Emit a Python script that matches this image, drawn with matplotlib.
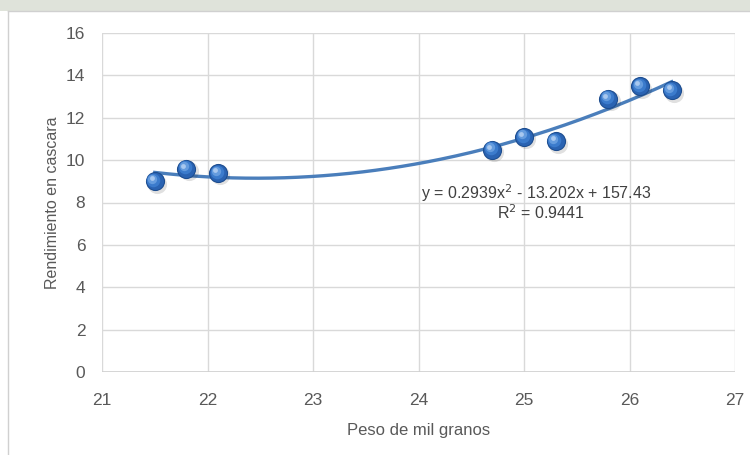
import numpy as np
import matplotlib
matplotlib.use("Agg")
import matplotlib.pyplot as plt
from matplotlib.lines import Line2D
from matplotlib.patches import Rectangle

plt.rcParams['font.family'] = ['Liberation Sans', 'DejaVu Sans']

peso = [21.5, 21.8, 22.1, 24.7, 25.0, 25.3, 25.8, 26.1, 26.4]
rendimiento = [9.0, 9.6, 9.4, 10.5, 11.1, 10.9, 12.9, 13.5, 13.3]
x_ticks = [21, 22, 23, 24, 25, 26, 27]
y_ticks = [0, 2, 4, 6, 8, 10, 12, 14, 16]
eq_text = "y = 0.2939x$^2$ - 13.202x + 157.43"
r2_text = "R$^2$ = 0.9441"
x_label = "Peso de mil granos"
y_label = "Rendimiento en cascara"

fig = plt.figure(figsize=(7.5, 4.55), dpi=100)
fig.patch.set_facecolor('white')
# faint watermark band at top
fig.add_artist(Rectangle((0, 1 - 11/455), 1, 11/455, transform=fig.transFigure,
                         facecolor='#dfe3da', edgecolor='none'))
# outer chart frame
fig.add_artist(Line2D([8/750, 1], [1 - 11/455, 1 - 11/455], transform=fig.transFigure,
                      color='#d0d0d0', lw=1))
fig.add_artist(Line2D([8/750, 8/750], [0, 1 - 11/455], transform=fig.transFigure,
                      color='#d0d0d0', lw=1))

ax = fig.add_axes([102/750, 1 - 372/455, (735 - 102)/750, (372 - 33)/455])
ax.set_xlim(21, 27)
ax.set_ylim(0, 16)
ax.set_xticks(x_ticks)
ax.set_yticks(y_ticks)
ax.grid(True, color='#d9d9d9', lw=1)
ax.set_axisbelow(True)
for s in ax.spines.values():
    s.set_visible(False)
ax.axhline(0, color='#d0d0d0', lw=1.2, zorder=1)
ax.tick_params(length=0, labelsize=12.5, labelcolor='#595959')
ax.tick_params(axis='x', pad=15)
ax.tick_params(axis='y', pad=12)
ax.set_xlabel(x_label, fontsize=12, color='#595959', labelpad=11)
ax.set_ylabel(y_label, fontsize=11.5, color='#595959', labelpad=4)

# trendline
coef = np.polyfit(peso, rendimiento, 2)
xs = np.linspace(min(peso), max(peso), 200)
ax.plot(xs, np.polyval(coef, xs), color='#4a7ebb', lw=2.4, zorder=2)

# 3D-looking sphere markers
px = np.array(peso)
py = np.array(rendimiento)
ax.scatter(px + 0.02, py - 0.12, s=190, color='#000000', alpha=0.12, lw=0, zorder=3)
ax.scatter(px, py, s=190, color='#1d4d8f', lw=0, zorder=4)
ax.scatter(px, py, s=150, color='#2a63b2', lw=0, zorder=5)
ax.scatter(px - 0.012, py + 0.06, s=95, color='#3b7bcc', lw=0, zorder=6)
ax.scatter(px - 0.022, py + 0.11, s=45, color='#659cde', lw=0, zorder=7)
ax.scatter(px - 0.028, py + 0.14, s=12, color='#a8c8ef', lw=0, zorder=8)

ax.text(24.02, 8.44, eq_text, fontsize=11.5, color='#404040', ha='left', va='center')
ax.text(24.74, 7.5, r2_text, fontsize=11.5, color='#404040', ha='left', va='center')

fig.savefig('out.png', dpi=100)
